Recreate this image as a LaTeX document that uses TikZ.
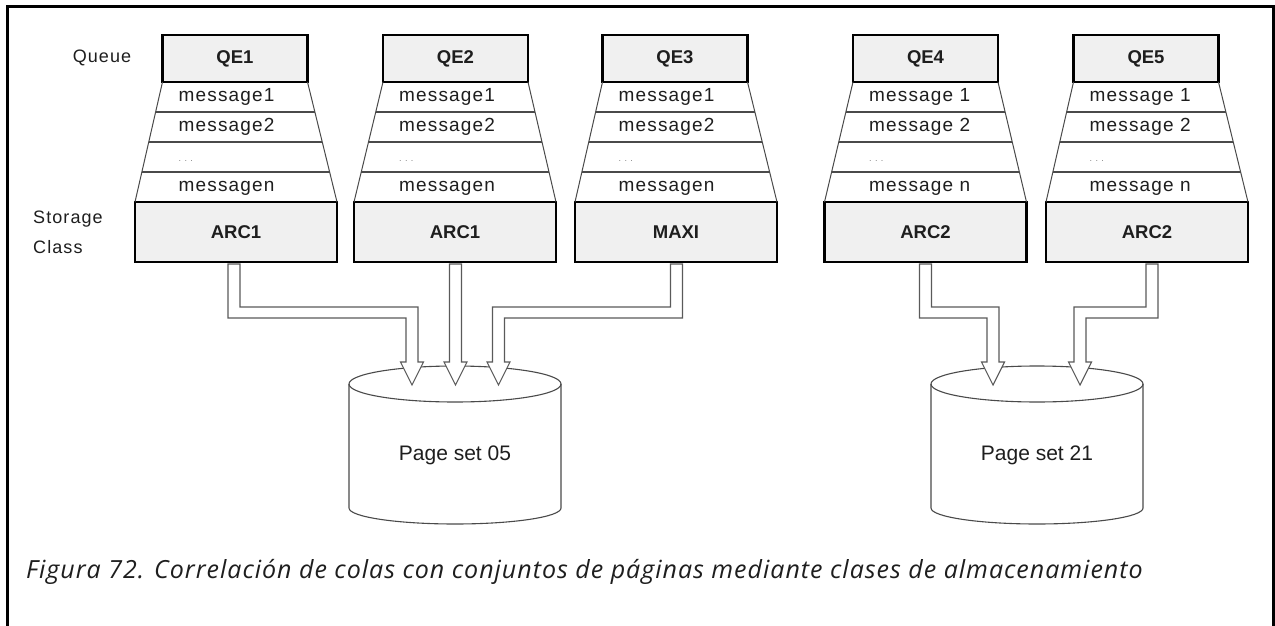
\documentclass[tikz,border=0pt]{standalone}
\usepackage{fontspec}
\setmainfont{Liberation Sans}
\newfontfamily\labfont[LetterSpace=6]{Liberation Sans}
\newfontfamily\capfont[LetterSpace=4]{Open Sans}
\usetikzlibrary{calc}
\definecolor{boxgray}{HTML}{F0F0F0}
\definecolor{txt}{HTML}{1E1E1E}
\definecolor{linegray}{HTML}{4A4A4A}
\definecolor{arrowgray}{HTML}{5A5A5A}
\newcommand\qstack[9]{%
  \node[qbox] (#1) at (#2,58.5) {#3};
  \node[abox] (#4) at (#5,232) {#6};
  \draw[thinl] (#1.south west) -- (#4.north west);
  \draw[thinl] (#1.south east) -- (#4.north east);
  \foreach \f in {0.25,0.5,0.75}
    \draw[sepl] ($(#1.south west)!\f!(#4.north west)$) -- ($(#1.south east)!\f!(#4.north east)$);
  \node[msg] (#1ma) at ($(#1.south west)+(16,15)$) {#7};
  \node[msg] (#1mb) at ($(#1.south west)+(16,45)$) {#8};
  \node[dots] (#1mc) at ($(#1.south west)+(16,79)$) {. . .};
  \node[msg] (#1md) at ($(#1.south west)+(16,106)$) {#9};
}
\newcommand\rarrow[3]{%
  \draw[harrow] let \p1=($(#1.south)+(#3,2)$), \p2=(#2) in
   (\x1-6pt,\y1) -- (\x1-6pt,-318pt) -- (\x2-6pt,-318pt) -- (\x2-6pt,-362pt)
   -- (\x2-11.5pt,-362pt) -- (\x2,\y2) -- (\x2+11.5pt,-362pt) -- (\x2+6pt,-362pt)
   -- (\x2+6pt,-307pt) -- (\x1+6pt,-307pt) -- (\x1+6pt,\y1) -- cycle;
}
\newcommand\larrow[3]{%
  \draw[harrow] let \p1=($(#1.south)+(#3,2)$), \p2=(#2) in
   (\x1+6pt,\y1) -- (\x1+6pt,-318pt) -- (\x2+6pt,-318pt) -- (\x2+6pt,-362pt)
   -- (\x2+11.5pt,-362pt) -- (\x2,\y2) -- (\x2-11.5pt,-362pt) -- (\x2-6pt,-362pt)
   -- (\x2-6pt,-307pt) -- (\x1-6pt,-307pt) -- (\x1-6pt,\y1) -- cycle;
}
\newcommand\sarrow[3]{%
  \draw[harrow] let \p1=($(#1.south)+(#3,2)$), \p2=(#2) in
   (\x1-6pt,\y1) -- (\x1-6pt,-362pt) -- (\x1-11.5pt,-362pt) -- (\x1,\y2)
   -- (\x1+11.5pt,-362pt) -- (\x1+6pt,-362pt) -- (\x1+6pt,\y1) -- cycle;
}
\newcommand\cylinder[3]{%
  \node[pstext] (#1) at (#2,455) {#3};
  \draw[cyl] ($(#1)+(-106,-71)$) -- ($(#1)+(-106,53)$)
    arc[start angle=180,end angle=360,x radius=106pt,y radius=16pt]
    -- ($(#1)+(106,-71)$);
  \draw[cyl] ($(#1)+(0,-71)$) ellipse [x radius=106pt, y radius=18pt];
}
\begin{document}
\begin{tikzpicture}[x=1pt,y=-1pt,
  qbox/.style={draw=black, line width=2.4pt, fill=boxgray, minimum width=145pt,
    minimum height=47pt, inner sep=0pt, outer sep=0pt,
    font=\fontsize{18.5}{20}\selectfont\bfseries, text=txt},
  abox/.style={qbox, minimum width=202pt, minimum height=60pt},
  thinl/.style={draw=linegray, line width=1pt},
  sepl/.style={draw=linegray, line width=1.4pt},
  msg/.style={anchor=west, inner sep=0pt, font=\labfont\fontsize{19}{21}\selectfont, text=txt},
  dots/.style={anchor=west, inner sep=0pt, font=\fontsize{9}{10}\selectfont, text=gray},
  lab/.style={inner sep=0pt, font=\labfont\fontsize{18}{30}\selectfont, text=txt},
  pstext/.style={inner sep=0pt, font=\fontsize{21}{24}\selectfont, text=txt},
  cyl/.style={draw=linegray, line width=1.1pt},
  harrow/.style={draw=arrowgray, line width=1.1pt, fill=white, line join=miter}
]
\useasboundingbox (0,0) rectangle (1275,626);
\fill[white] (0,0) rectangle (1275,626);
\draw[line width=3pt] (7,626) -- (7,6.5) -- (1273.5,6.5) -- (1273.5,626);

\node[lab] (queue) at (102,58) {Queue};
\node[lab, anchor=west, align=left] (storage) at (33,232) {Storage\\Class};

\qstack{qe1}{235}{QE1}{arca}{236}{ARC1}{message1}{message2}{messagen}
\qstack{qe2}{455.5}{QE2}{arcb}{455}{ARC1}{message1}{message2}{messagen}
\qstack{qe3}{675}{QE3}{maxi}{676}{MAXI}{message1}{message2}{messagen}
\qstack{qe4}{925.5}{QE4}{arcc}{925.5}{ARC2}{message 1}{message 2}{message n}
\qstack{qe5}{1146}{QE5}{arcd}{1147}{ARC2}{message 1}{message 2}{message n}

\cylinder{ps05}{455}{Page set 05}
\cylinder{ps21}{1037}{Page set 21}

\coordinate (t1) at (412,385);
\coordinate (t2) at (455.5,385);
\coordinate (t3) at (498.5,385);
\coordinate (t4) at (993,385);
\coordinate (t5) at (1080,385);

\rarrow{arca}{t1}{-2}
\sarrow{arcb}{t2}{0.5}
\larrow{maxi}{t3}{0.5}
\rarrow{arcc}{t4}{0}
\larrow{arcd}{t5}{5}

\node[anchor=base west, inner sep=0pt, font=\capfont\itshape\fontsize{25}{28}\selectfont, text=txt] (cap)
  at (26,578) {Figura 72. Correlación de colas con conjuntos de páginas mediante clases de almacenamiento};
\end{tikzpicture}
\end{document}
